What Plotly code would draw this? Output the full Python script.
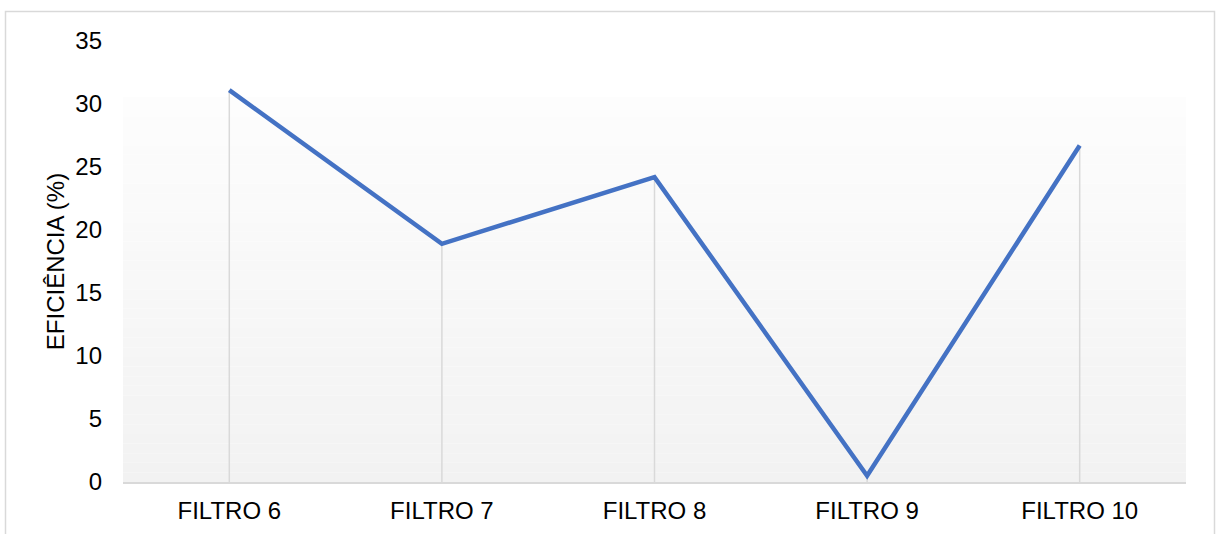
import plotly.graph_objects as go

categorias = ["FILTRO 6", "FILTRO 7", "FILTRO 8", "FILTRO 9", "FILTRO 10"]
eficiencia = [31.1, 18.9, 24.2, 0.5, 26.7]
y_ticks = [0, 5, 10, 15, 20, 25, 30, 35]

W, H = 1216, 534
X_LEFT, X_RIGHT = 123, 1186
Y_TOP, Y_BOTTOM = 41, 482

FONT = "Liberation Sans, Arial, sans-serif"
GRID_GRAY = "#d9d9d9"
LINE_BLUE = "#4472c4"
FS = 24

fig = go.Figure()

# drop lines from each point down to the category axis
dx, dy = [], []
for i, v in enumerate(eficiencia):
    dx += [i, i, None]
    dy += [0, v, None]
fig.add_trace(go.Scatter(
    x=dx, y=dy, mode="lines",
    line=dict(color=GRID_GRAY, width=1.5),
    hoverinfo="skip", showlegend=False,
))

fig.add_trace(go.Scatter(
    x=list(range(len(categorias))), y=eficiencia, mode="lines",
    line=dict(color=LINE_BLUE, width=4.5),
    showlegend=False,
))

shapes = []
# vertical gradient fill behind the series (near white at top, light gray at bottom)
n_bands = 40
g_top = 30.55
for k in range(n_bands):
    y0 = g_top * k / n_bands
    y1 = g_top * (k + 1) / n_bands
    t = (k + 0.5) / n_bands  # 0 at bottom, 1 at top
    c = round(242 + (253 - 242) * t)
    shapes.append(dict(
        type="rect", xref="x", yref="y", layer="below",
        x0=-0.5, x1=4.5, y0=y0, y1=y1,
        fillcolor=f"rgb({c},{c},{c})", line=dict(width=0),
    ))

# chart area border
shapes.append(dict(
    type="rect", xref="paper", yref="paper",
    x0=5.5 / W, x1=1214.5 / W, y0=-0.05, y1=(H - 11.5) / H,
    line=dict(color=GRID_GRAY, width=1.5), fillcolor="rgba(0,0,0,0)",
))

fig.update_layout(
    width=W, height=H,
    margin=dict(l=0, r=0, t=0, b=0),
    paper_bgcolor="white", plot_bgcolor="white",
    font=dict(family=FONT, size=FS, color="#000000"),
    shapes=shapes,
    xaxis=dict(
        domain=[X_LEFT / W, X_RIGHT / W],
        range=[-0.5, 4.5],
        tickmode="array",
        tickvals=list(range(len(categorias))),
        ticktext=categorias,
        showgrid=False, zeroline=False,
        showline=True, linecolor=GRID_GRAY, linewidth=1.5,
        ticks="", ticklabelstandoff=6,
        automargin=False,
        tickfont=dict(size=FS),
    ),
    yaxis=dict(
        domain=[(H - Y_BOTTOM) / H, (H - Y_TOP) / H],
        range=[0, 35],
        tickmode="array",
        tickvals=y_ticks,
        showgrid=False, zeroline=False, showline=False,
        ticks="", ticklabelstandoff=20,
        automargin=False,
        tickfont=dict(size=FS),
        title=dict(text="EFICIÊNCIA (%)", font=dict(size=FS), standoff=3),
    ),
)

fig.write_html("out.html")
